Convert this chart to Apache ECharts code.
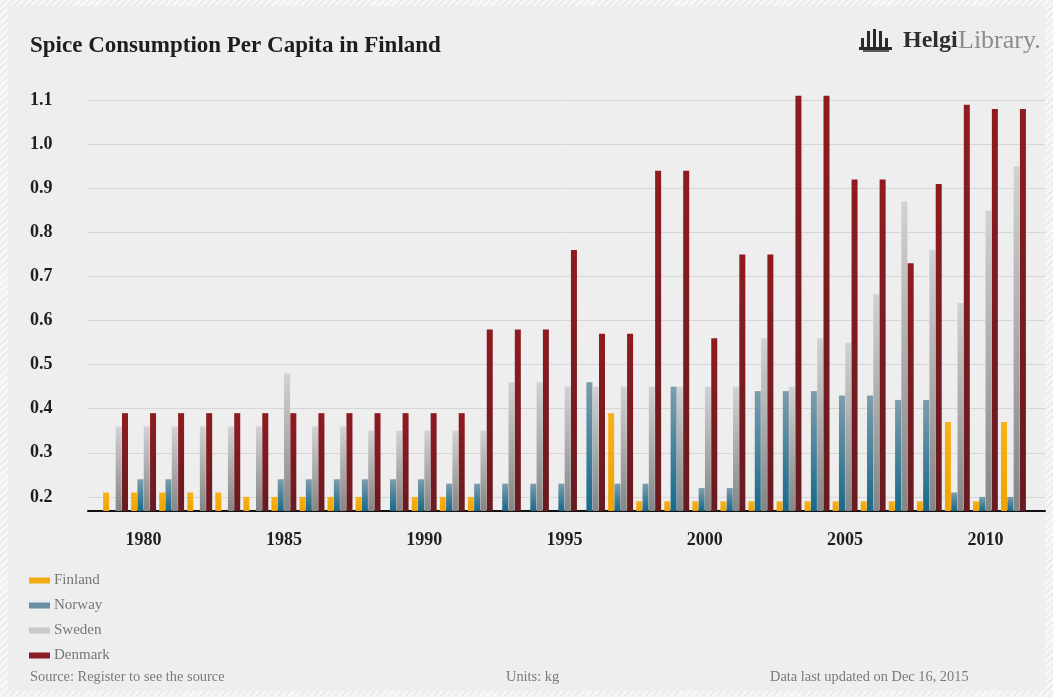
<!DOCTYPE html>
<html>
<head>
<meta charset="utf-8">
<title>Spice Consumption Per Capita in Finland</title>
<script src="https://cdn.jsdelivr.net/npm/echarts@6/dist/echarts.min.js"></script>
<style>
  html, body { margin: 0; padding: 0; }
  body {
    width: 1053px; height: 697px; overflow: hidden;
    background: repeating-linear-gradient(135deg, #f7f7f7 0 3px, #ececec 3px 5px);
  }
  #panel {
    position: absolute; left: 8px; top: 6px; width: 1037px; height: 685px;
    background: #eeeeee;
  }
  #chart { position: absolute; left: 0; top: 0; width: 1053px; height: 697px; }
</style>
</head>
<body>
<div id="panel"></div>
<div id="chart"></div>
<script>
// Years on the category axis
const years = [1979, 1980, 1981, 1982, 1983, 1984, 1985, 1986, 1987, 1988, 1989,
  1990, 1991, 1992, 1993, 1994, 1995, 1996, 1997, 1998, 1999, 2000,
  2001, 2002, 2003, 2004, 2005, 2006, 2007, 2008, 2009, 2010, 2011];

// Spice consumption per capita, kg
const finland = [0.21, 0.21, 0.21, 0.21, 0.21, 0.20, 0.20, 0.20, 0.20, 0.20, null,
  0.20, 0.20, 0.20, null, null, null, null, 0.39, 0.19, 0.19, 0.19,
  0.19, 0.19, 0.19, 0.19, 0.19, 0.19, 0.19, 0.19, 0.37, 0.19, 0.37];
const norway = [null, 0.24, 0.24, null, null, null, 0.24, 0.24, 0.24, 0.24, 0.24,
  0.24, 0.23, 0.23, 0.23, 0.23, 0.23, 0.46, 0.23, 0.23, 0.45, 0.22,
  0.22, 0.44, 0.44, 0.44, 0.43, 0.43, 0.42, 0.42, 0.21, 0.20, 0.20];
const sweden = [0.36, 0.36, 0.36, 0.36, 0.36, 0.36, 0.48, 0.36, 0.36, 0.35, 0.35,
  0.35, 0.35, 0.35, 0.46, 0.46, 0.45, 0.45, 0.45, 0.45, 0.45, 0.45,
  0.45, 0.56, 0.45, 0.56, 0.55, 0.66, 0.87, 0.76, 0.64, 0.85, 0.95];
const denmark = [0.39, 0.39, 0.39, 0.39, 0.39, 0.39, 0.39, 0.39, 0.39, 0.39, 0.39,
  0.39, 0.39, 0.58, 0.58, 0.58, 0.76, 0.57, 0.57, 0.94, 0.94, 0.56,
  0.75, 0.75, 1.11, 1.11, 0.92, 0.92, 0.73, 0.91, 1.09, 1.08, 1.08];

// Value-axis tick labels
const yTicks = [0.2, 0.3, 0.4, 0.5, 0.6, 0.7, 0.8, 0.9, 1.0, 1.1];

const Y_MIN = 0.168, Y_MAX = 1.13;
const SERIF = '"Liberation Serif", "DejaVu Serif", serif';

function vGrad(top, bottom) {
  return new echarts.graphic.LinearGradient(0, 0, 0, 1, [
    { offset: 0, color: top }, { offset: 1, color: bottom }
  ]);
}

const seriesDefs = [
  { name: 'Finland', data: finland, color: vGrad('#f7b219', '#f0a200'), legend: '#f2aa10' },
  { name: 'Norway', data: norway, color: vGrad('#7d9dac', '#16698b'), legend: '#6b8fa3' },
  { name: 'Sweden', data: sweden, color: vGrad('#d2d2d2', '#858585'), legend: '#c9c9c9' },
  { name: 'Denmark', data: denmark, color: vGrad('#8e1b21', '#671b20'), legend: '#8b1c22' }
];

const chart = echarts.init(document.getElementById('chart'), null, { renderer: 'canvas' });

chart.setOption({
  backgroundColor: 'transparent',
  animation: false,
  title: {
    text: 'Spice Consumption Per Capita in Finland',
    left: 25, top: 30,
    textStyle: { fontFamily: SERIF, fontWeight: 'bold', fontSize: 23, color: '#1e1e1e' }
  },
  legend: {
    orient: 'vertical', left: 24, top: 568,
    itemWidth: 21, itemHeight: 6, itemGap: 10,
    icon: 'rect',
    textStyle: { fontFamily: SERIF, fontSize: 15, color: '#777777', lineHeight: 15, padding: [0, 0, 0, -1] },
    data: seriesDefs.map(s => ({ name: s.name, itemStyle: { color: s.legend } }))
  },
  grid: [
    // frame grid: gridlines, value labels, baseline
    { left: 88, right: 8, top: 87, height: 424 },
    // bar grid
    { left: 101.5, width: 926, top: 87, height: 424 }
  ],
  xAxis: [
    {
      gridIndex: 0, type: 'value', min: 0, max: 1,
      axisLine: { show: true, onZero: false, lineStyle: { color: '#111111', width: 2 } },
      axisTick: { show: false }, axisLabel: { show: false }, splitLine: { show: false }
    },
    {
      gridIndex: 1, type: 'category', data: years,
      axisLine: { show: false }, axisTick: { show: false },
      axisLabel: {
        interval: (i, v) => Number(v) % 5 === 0,
        margin: 20,
        fontFamily: SERIF, fontWeight: 'bold', fontSize: 18, color: '#1e1e1e'
      }
    }
  ],
  yAxis: [
    {
      gridIndex: 0, type: 'value', min: Y_MIN, max: Y_MAX,
      axisLine: { show: false },
      axisTick: { show: false, customValues: yTicks },
      axisLabel: {
        customValues: yTicks,
        formatter: v => v.toFixed(1),
        align: 'left', margin: 58,
        fontFamily: SERIF, fontWeight: 'bold', fontSize: 18, color: '#1e1e1e'
      },
      splitLine: { show: true, lineStyle: { color: '#d6d6d6', width: 1 } }
    },
    {
      gridIndex: 1, type: 'value', min: Y_MIN, max: Y_MAX, show: false,
      splitLine: { show: false }
    }
  ],
  series: seriesDefs.map(s => ({
    name: s.name,
    type: 'bar',
    xAxisIndex: 1, yAxisIndex: 1,
    data: s.data,
    barWidth: 6, barGap: '5%',
    itemStyle: { color: s.color },
    emphasis: { disabled: true }
  })),
  graphic: [
    {
      type: 'text', left: 30, top: 670,
      style: { text: 'Source: Register to see the source', font: '14.4px ' + SERIF, fill: '#7a7a7a' }
    },
    {
      type: 'text', left: 506, top: 670,
      style: { text: 'Units: kg', font: '14.4px ' + SERIF, fill: '#7a7a7a' }
    },
    {
      type: 'text', left: 770, top: 670,
      style: { text: 'Data last updated on Dec 16, 2015', font: '14.4px ' + SERIF, fill: '#7a7a7a' }
    },
    // HelgiLibrary logo
    {
      type: 'group', left: 859, top: 29,
      children: [
        { type: 'rect', shape: { x: 0, y: 10, width: 3, height: 10 }, style: { fill: '#2a2a2a' } },
        { type: 'rect', shape: { x: 6, y: 3, width: 3, height: 17 }, style: { fill: '#2a2a2a' } },
        { type: 'rect', shape: { x: 12, y: 1, width: 3, height: 19 }, style: { fill: '#2a2a2a' } },
        { type: 'rect', shape: { x: 18, y: 3, width: 3, height: 17 }, style: { fill: '#2a2a2a' } },
        { type: 'rect', shape: { x: 24, y: 10, width: 3, height: 10 }, style: { fill: '#2a2a2a' } },
        { type: 'rect', shape: { x: -2, y: 19, width: 33, height: 3 }, style: { fill: '#2a2a2a' } },
        { type: 'rect', shape: { x: 2, y: 22, width: 26, height: 2 }, style: { fill: '#5a5a5a' } }
      ]
    },
    {
      type: 'text', left: 903, top: 29,
      style: { text: 'Helgi', font: 'bold 24px ' + SERIF, fill: '#2e2e2e' }
    },
    {
      type: 'text', left: 958, top: 28,
      style: { text: 'Library.', font: '26px ' + SERIF, fill: '#8c8c8c' }
    }
  ]
});
</script>
</body>
</html>
